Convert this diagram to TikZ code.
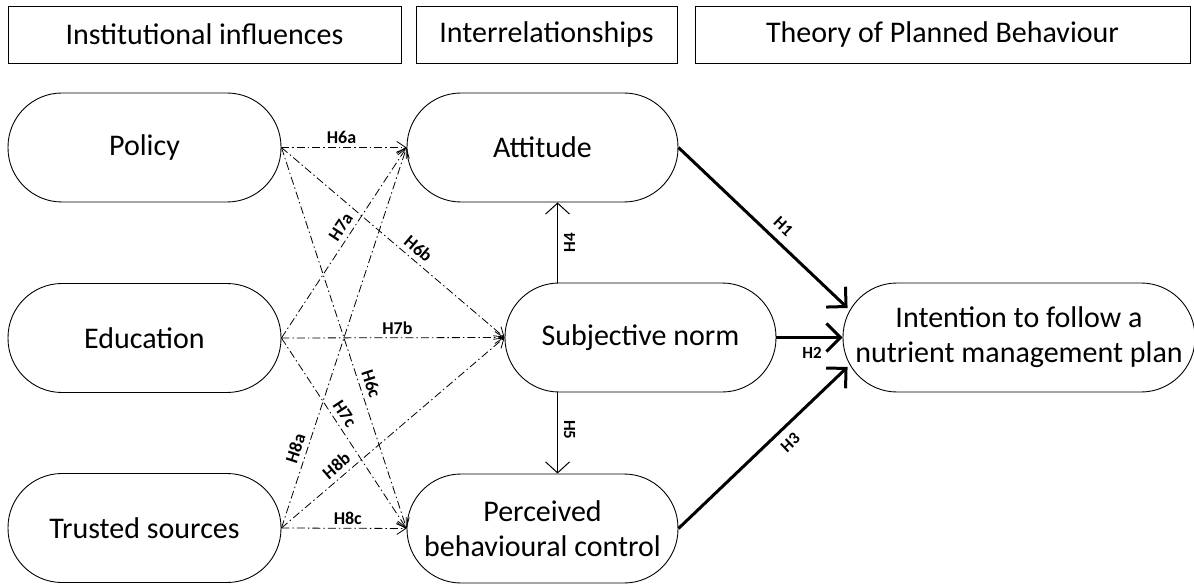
\documentclass[tikz,border=0pt]{standalone}
\usepackage{fontspec}
\setmainfont{Carlito}
\usetikzlibrary{arrows.meta}
\begin{document}
\begin{tikzpicture}[x=1pt,y=-1pt,
  hdr/.style={draw, line width=0.9pt, minimum height=57pt, inner sep=0pt, font=\fontsize{30}{31}\selectfont},
  pill/.style={draw, line width=0.9pt, rounded corners=54pt, minimum height=109pt, inner sep=0pt, align=center, font=\fontsize{30}{35}\selectfont},
  dd/.style={line width=0.8pt, dash pattern=on 8pt off 3pt on 1.5pt off 3pt, -{Straight Barb[length=9pt,width=12pt]}},
  thinarr/.style={line width=1pt, -{Straight Barb[length=11pt,width=24pt]}},
  thickarr/.style={line width=3pt, -{Straight Barb[length=14pt,width=28pt]}},
  lbl/.style={font=\bfseries\fontsize{18}{18}\selectfont, sloped, inner sep=2pt},
  slbl/.style={font=\bfseries\fontsize{17}{17}\selectfont, inner sep=2pt},
]
\useasboundingbox (0,0) rectangle (1194,585);
\clip (0,0) rectangle (1194,585);

% header boxes
\node[hdr, minimum width=393pt] (h1) at (204.5,34.5) {Institutional influences};
\node[hdr, minimum width=261pt] (h2) at (546.5,34.5) {Interrelationships};
\node[hdr, minimum width=495pt] (h3) at (942.5,34.5) {Theory of Planned Behaviour};

% nodes
\node[pill, minimum width=273pt] (pol) at (144.5,147.5) {Policy};
\node[pill, minimum width=273pt] (edu) at (144.5,338) {Education};
\node[pill, minimum width=273pt] (tru) at (144.5,528) {Trusted sources};
\node[pill, minimum width=271pt] (att) at (542.5,147.5) {Attitude};
\node[pill, minimum width=271pt] (sn) at (640.5,337.5) {Subjective norm};
\node[pill, minimum width=271pt] (pbc) at (542.5,528.5) {Perceived\\behavioural control};
\node[pill, minimum width=352pt] (int) at (1019,337.5) {Intention to follow a\\nutrient management plan};

% institutional influences
\draw[dd] (pol.east) -- node[lbl,above=1pt,pos=0.48]{H6a} (att.west);
\draw[dd] (pol.east) -- node[lbl,above=3pt,pos=0.58]{H6b} (sn.west);
\draw[dd] (pol.east) -- node[lbl,above=3pt,pos=0.63]{H6c} (pbc.west);
\draw[dd] (edu.east) -- node[lbl,above=3pt,pos=0.55]{H7a} (att.west);
\draw[dd] (edu.east) -- node[lbl,above=1pt,pos=0.52]{H7b} (sn.west);
\draw[dd] (edu.east) -- node[lbl,above=3pt,pos=0.43]{H7c} (pbc.west);
\draw[dd] (tru.east) -- node[lbl,above=3pt,pos=0.2]{H8a} (att.west);
\draw[dd] (tru.east) -- node[lbl,above=3pt,pos=0.28]{H8b} (sn.west);
\draw[dd] (tru.east) -- node[lbl,above=1pt,pos=0.53]{H8c} (pbc.west);

% interrelationships
\coordinate (h4a) at ([xshift=53pt]sn.north west);
\coordinate (h5a) at ([xshift=53pt]sn.south west);
\draw[thinarr] (h4a) -- node[slbl,pos=0.5,xshift=12pt,rotate=90]{H4} (h4a |- att.south);
\draw[thinarr] (h5a) -- node[slbl,pos=0.46,xshift=12pt,rotate=-90]{H5} (h5a |- pbc.north);

% TPB
\coordinate (i1) at ([xshift=5pt,yshift=29.5pt]int.west);
\coordinate (i3) at ([xshift=5pt,yshift=-29.5pt]int.west);
\draw[thickarr] (att.east) -- node[slbl,sloped,above=6pt,pos=0.56]{H1} (i1);
\draw[thickarr] (sn.east) -- node[slbl,below=6pt,pos=0.54]{H2} (int.west);
\draw[thickarr] (pbc.east) -- node[slbl,sloped,below=6pt,pos=0.6]{H3} (i3);
\end{tikzpicture}
\end{document}
